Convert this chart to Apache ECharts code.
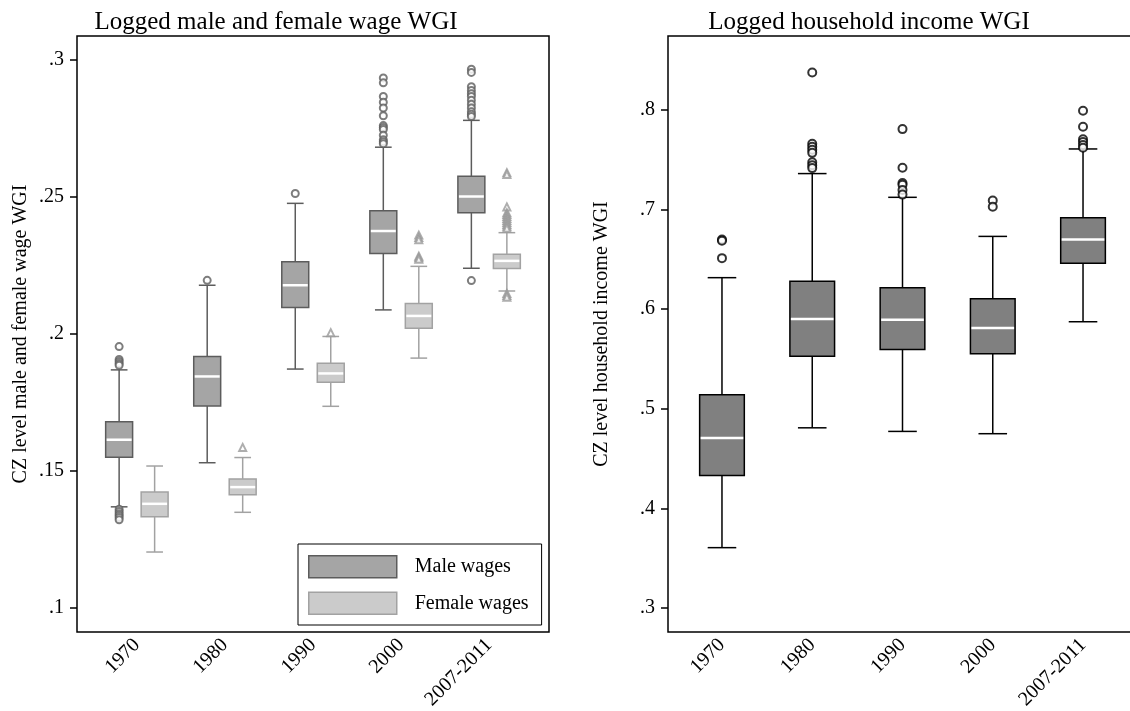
<!DOCTYPE html>
<html><head><meta charset="utf-8">
<script src="https://cdn.jsdelivr.net/npm/echarts@6/dist/echarts.min.js"></script>
<style>html,body{margin:0;padding:0;background:#fff}#c{width:1130px;height:711px}</style>
</head><body><div id="c"></div>
<script>
const categories = ['1970', '1980', '1990', '2000', '2007-2011'];
const leftTicks = [0.1, 0.15, 0.2, 0.25, 0.3];
const rightTicks = [0.3, 0.4, 0.5, 0.6, 0.7, 0.8];

// [lower whisker, Q1, median, Q3, upper whisker]
const maleStats = [
  [0.1367, 0.1548, 0.1612, 0.1678, 0.1867],
  [0.1528, 0.1735, 0.1843, 0.1916, 0.2176],
  [0.1870, 0.2095, 0.2176, 0.2262, 0.2475],
  [0.2086, 0.2292, 0.2374, 0.2448, 0.2680],
  [0.2238, 0.2441, 0.2500, 0.2574, 0.2778]
];
const femaleStats = [
  [0.1202, 0.1331, 0.1378, 0.1421, 0.1516],
  [0.1347, 0.1411, 0.1439, 0.1469, 0.1547],
  [0.1734, 0.1822, 0.1854, 0.1891, 0.1989],
  [0.1910, 0.2019, 0.2064, 0.2109, 0.2245],
  [0.2155, 0.2237, 0.2265, 0.2289, 0.2368]
];
const maleOutliers = [
  [0.1952, 0.1905, 0.1898, 0.1890, 0.1884, 0.1358, 0.1350, 0.1342, 0.1335, 0.1328, 0.1320],
  [0.2194],
  [0.2511],
  [0.2933, 0.2915, 0.2865, 0.2844, 0.2823, 0.2795, 0.2759, 0.2752, 0.2745, 0.2724, 0.2707, 0.2700, 0.2693],
  [0.2965, 0.2953, 0.2901, 0.2887, 0.2875, 0.2865, 0.2851, 0.2837, 0.2823, 0.2809, 0.2800, 0.2792, 0.2193]
];
const femaleOutliers = [
  [],
  [0.1584],
  [0.2003],
  [0.2359, 0.2350, 0.2342, 0.2282, 0.2276, 0.2271],
  [0.2587, 0.2580, 0.2462, 0.2441, 0.2434, 0.2427, 0.2420, 0.2412, 0.2405, 0.2398, 0.2391, 0.2384, 0.2146, 0.2139, 0.2132]
];
const hhStats = [
  [0.3606, 0.4330, 0.4706, 0.5140, 0.6314],
  [0.4808, 0.5527, 0.5899, 0.6279, 0.7358],
  [0.4772, 0.5594, 0.5891, 0.6212, 0.7120],
  [0.4749, 0.5551, 0.5809, 0.6102, 0.6728],
  [0.5872, 0.6459, 0.6697, 0.6916, 0.7605]
];
const hhOutliers = [
  [0.6697, 0.6685, 0.6510],
  [0.8372, 0.7656, 0.7628, 0.7597, 0.7566, 0.7472, 0.7441, 0.7413],
  [0.7804, 0.7417, 0.7264, 0.7245, 0.7194, 0.7147],
  [0.7088, 0.7026],
  [0.7988, 0.7828, 0.7703, 0.7675, 0.7644, 0.7617]
];

const FONT = "'Liberation Serif','Times New Roman',serif";
const PAIR_OFF = 0.2015;

function fmt(v) { return String(+v.toFixed(3)).replace(/^0\./, '.'); }

function boxRender(o) {
  return function (params, api) {
    const x = api.value(0);
    const unit = api.size([1, 0])[0];
    const bw = unit * o.boxFrac, cw = bw * o.capFrac;
    const pLo = api.coord([x, api.value(1)]);
    const pQ1 = api.coord([x, api.value(2)]);
    const pMed = api.coord([x, api.value(3)]);
    const pQ3 = api.coord([x, api.value(4)]);
    const pHi = api.coord([x, api.value(5)]);
    const cx = pLo[0];
    const ls = { stroke: o.whisker, lineWidth: o.lw };
    return {
      type: 'group', children: [
        { type: 'line', shape: { x1: cx, y1: pLo[1], x2: cx, y2: pQ1[1] }, style: ls },
        { type: 'line', shape: { x1: cx, y1: pQ3[1], x2: cx, y2: pHi[1] }, style: ls },
        { type: 'line', shape: { x1: cx - cw / 2, y1: pLo[1], x2: cx + cw / 2, y2: pLo[1] }, style: ls },
        { type: 'line', shape: { x1: cx - cw / 2, y1: pHi[1], x2: cx + cw / 2, y2: pHi[1] }, style: ls },
        { type: 'rect', shape: { x: cx - bw / 2, y: pQ3[1], width: bw, height: pQ1[1] - pQ3[1] },
          style: { fill: o.fill, stroke: o.border, lineWidth: o.blw } },
        { type: 'line', shape: { x1: cx - bw / 2 + 1, y1: pMed[1], x2: cx + bw / 2 - 1, y2: pMed[1] },
          style: { stroke: '#fff', lineWidth: o.mlw } }
      ]
    };
  };
}

function boxData(stats, off) { return stats.map((s, i) => [i + off].concat(s)); }
function outData(outs, off) {
  const pts = [];
  outs.forEach((arr, i) => arr.forEach(v => pts.push([i + off, v])));
  return pts;
}

const MALE = { fill: '#a5a5a5', border: '#5c5c5c', whisker: '#5c5c5c', lw: 1.5, blw: 1.5, mlw: 2.5, boxFrac: 0.306, capFrac: 0.62 };
const FEMALE = { fill: '#cbcbcb', border: '#a2a2a2', whisker: '#a2a2a2', lw: 1.5, blw: 1.5, mlw: 2.5, boxFrac: 0.306, capFrac: 0.62 };
const HH = { fill: '#808080', border: '#000', whisker: '#000', lw: 1.5, blw: 1.5, mlw: 2.5, boxFrac: 0.495, capFrac: 0.64 };

function xAxisDef(gi, min, max) {
  return {
    type: 'value', gridIndex: gi, min: min, max: max,
    splitLine: { show: false }, axisLine: { show: false, onZero: false }, axisTick: { show: false },
    axisLabel: { customValues: [0, 1, 2, 3, 4], formatter: v => categories[Math.round(v)],
      rotate: 45, margin: 10, fontSize: 20, fontFamily: FONT, color: '#000' }
  };
}
function yAxisDef(gi, min, max, ticks, name, gap) {
  return {
    type: 'value', gridIndex: gi, min: min, max: max,
    splitLine: { show: false }, axisLine: { show: false, onZero: false },
    axisTick: { show: true, length: 7, customValues: ticks, lineStyle: { color: '#000', width: 1.5 } },
    axisLabel: { customValues: ticks, formatter: fmt, margin: 13, fontSize: 20, fontFamily: FONT, color: '#000' },
    name: name, nameLocation: 'middle', nameGap: gap,
    nameTextStyle: { fontSize: 20, fontFamily: FONT, color: '#000' }
  };
}

const chart = echarts.init(document.getElementById('c'));
chart.setOption({
  animation: false,
  backgroundColor: '#fff',
  title: [
    { text: 'Logged male and female wage WGI', left: 271, top: 5, textAlign: 'center',
      textStyle: { fontSize: 25, fontWeight: 'normal', fontFamily: FONT, color: '#000' } },
    { text: 'Logged household income WGI', left: 864, top: 5, textAlign: 'center',
      textStyle: { fontSize: 25, fontWeight: 'normal', fontFamily: FONT, color: '#000' } }
  ],
  grid: [
    { left: 77, top: 36, width: 472, bottom: 79, show: true, borderColor: '#000', borderWidth: 1.5,
      outerBoundsMode: 'none', containLabel: false },
    { left: 668, top: 36, width: 469, bottom: 79, show: true, borderColor: '#000', borderWidth: 1.5,
      outerBoundsMode: 'none', containLabel: false }
  ],
  xAxis: [xAxisDef(0, -0.68, 4.68), xAxisDef(1, -0.598, 4.598)],
  yAxis: [
    yAxisDef(0, 0.091, 0.3086, leftTicks, 'CZ level male and female wage WGI', 46),
    yAxisDef(1, 0.276, 0.8738, rightTicks, 'CZ level household income WGI', 56)
  ],
  legend: {
    orient: 'vertical', left: 298, top: 544, padding: [11, 13, 10, 10], itemGap: 13,
    itemWidth: 88, itemHeight: 22, icon: 'rect', borderColor: '#000', borderWidth: 1,
    backgroundColor: '#fff', selectedMode: false,
    textStyle: { fontSize: 20, fontFamily: FONT, color: '#000', padding: [0, 0, 0, 13] },
    data: [
      { name: 'Male wages', itemStyle: { color: MALE.fill, borderColor: MALE.border, borderWidth: 1.5 } },
      { name: 'Female wages', itemStyle: { color: FEMALE.fill, borderColor: FEMALE.border, borderWidth: 1.5 } }
    ]
  },
  series: [
    { type: 'custom', name: 'Male wages', xAxisIndex: 0, yAxisIndex: 0, renderItem: boxRender(MALE),
      itemStyle: { color: MALE.fill }, encode: { x: 0, y: [1, 2, 3, 4, 5] }, data: boxData(maleStats, -PAIR_OFF) },
    { type: 'custom', name: 'Female wages', xAxisIndex: 0, yAxisIndex: 0, renderItem: boxRender(FEMALE),
      itemStyle: { color: FEMALE.fill }, encode: { x: 0, y: [1, 2, 3, 4, 5] }, data: boxData(femaleStats, PAIR_OFF) },
    { type: 'scatter', name: 'Male outliers', xAxisIndex: 0, yAxisIndex: 0, symbol: 'emptyCircle', symbolSize: 7,
      itemStyle: { color: '#5c5c5c', borderWidth: 1.3 }, data: outData(maleOutliers, -PAIR_OFF) },
    { type: 'scatter', name: 'Female outliers', xAxisIndex: 0, yAxisIndex: 0, symbol: 'emptyTriangle', symbolSize: 7,
      itemStyle: { color: '#9a9a9a', borderWidth: 1.3 }, data: outData(femaleOutliers, PAIR_OFF) },
    { type: 'custom', name: 'Household income', xAxisIndex: 1, yAxisIndex: 1, renderItem: boxRender(HH),
      itemStyle: { color: HH.fill }, encode: { x: 0, y: [1, 2, 3, 4, 5] }, data: boxData(hhStats, 0) },
    { type: 'scatter', name: 'Household outliers', xAxisIndex: 1, yAxisIndex: 1, symbol: 'emptyCircle', symbolSize: 8,
      itemStyle: { color: '#000', borderWidth: 1.4 }, data: outData(hhOutliers, 0) }
  ]
});
</script>
</body></html>
